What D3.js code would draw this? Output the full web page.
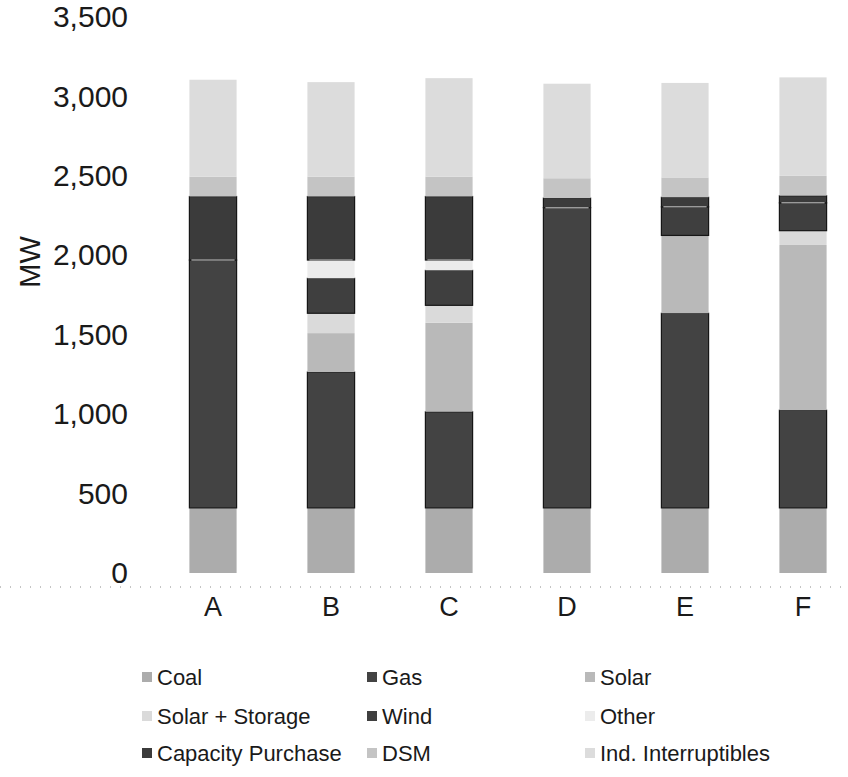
<!DOCTYPE html>
<html>
<head>
<meta charset="utf-8">
<script src="https://cdn.jsdelivr.net/npm/d3@7/dist/d3.min.js"></script>
<style>
  html, body { margin: 0; padding: 0; background: #fff; }
  svg { display: block; font-family: "Liberation Sans", Arial, Helvetica, sans-serif; }
</style>
</head>
<body>
<svg id="chart" width="848" height="777"></svg>
<script>
// Resource portfolios, MW by resource type
const categories = ["A", "B", "C", "D", "E", "F"];
const seriesNames = ["Coal", "Gas", "Solar", "Solar + Storage", "Wind", "Other",
                     "Capacity Purchase", "DSM", "Ind. Interruptibles"];

const coal             = [410, 410, 410, 410, 410, 410];
const gas              = [1560, 855, 605, 1890, 1225, 615];
const solar            = [0, 245, 560, 0, 490, 1040];
const solarStorage     = [0, 125, 110, 0, 0, 90];
const wind             = [0, 220, 220, 0, 180, 175];
const other            = [0, 115, 65, 0, 0, 0];
const capacityPurchase = [400, 400, 400, 60, 60, 45];
const dsm              = [125, 125, 125, 125, 125, 125];
const indInterruptible = [610, 595, 620, 595, 595, 620];

const yTicks = [0, 500, 1000, 1500, 2000, 2500, 3000, 3500];

const seriesValues = [coal, gas, solar, solarStorage, wind, other,
                      capacityPurchase, dsm, indInterruptible];
const seriesFill = ["#acacac", "#434343", "#b9b9b9", "#dadada", "#3f3f3f",
                    "#ececec", "#3b3b3b", "#c4c4c4", "#dcdcdc"];
const darkSeries = new Set(["Gas", "Wind", "Capacity Purchase"]);

// rows for the stack layout
const rows = categories.map((c, i) => {
  const r = { category: c };
  seriesNames.forEach((s, k) => { r[s] = seriesValues[k][i]; });
  return r;
});

const svg = d3.select("#chart");

const x = d3.scaleBand()
  .domain(categories)
  .range([154, 862])
  .paddingInner(0.6)
  .paddingOuter(0.3);

const y = d3.scaleLinear()
  .domain([0, 3500])
  .range([573, 17]);

const stacked = d3.stack().keys(seriesNames)(rows);

// stacked bars
svg.append("g")
  .selectAll("g")
  .data(stacked)
  .join("g")
    .attr("fill", (d, i) => seriesFill[i])
    .attr("stroke", d => darkSeries.has(d.key) ? "#161616" : "none")
    .attr("stroke-width", 1.2)
  .selectAll("rect")
  .data(d => d.filter(p => p[1] - p[0] > 0))
  .join("rect")
    .attr("x", d => x(d.data.category))
    .attr("width", x.bandwidth())
    .attr("y", d => y(d[1]))
    .attr("height", d => y(d[0]) - y(d[1]));

// thin light seams at the base of each capacity purchase block
svg.append("g")
  .selectAll("line")
  .data(stacked.filter(s => s.key === "Capacity Purchase")[0].filter(p => p[1] - p[0] > 0))
  .join("line")
    .attr("x1", d => x(d.data.category) + 2)
    .attr("x2", d => x(d.data.category) + x.bandwidth() - 2)
    .attr("y1", d => y(d[0]))
    .attr("y2", d => y(d[0]))
    .attr("stroke", "#9a9a9a")
    .attr("stroke-width", 1.5);

// y axis labels
const yAxis = svg.append("g")
  .attr("transform", "translate(128,0)")
  .call(d3.axisLeft(y).tickValues(yTicks).tickFormat(d3.format(",")).tickSize(0).tickPadding(0));
yAxis.select(".domain").remove();
yAxis.selectAll("text")
  .attr("font-size", 30)
  .attr("font-family", "'Liberation Sans', Arial, sans-serif")
  .attr("fill", "#1a1a1a");

// y axis title
svg.append("text")
  .attr("transform", "translate(30,262) rotate(-90)")
  .attr("text-anchor", "middle")
  .attr("dominant-baseline", "central")
  .attr("font-size", 29)
  .attr("fill", "#1a1a1a")
  .text("MW");

// category baseline (faint dotted)
svg.append("line")
  .attr("x1", 0).attr("x2", 848)
  .attr("y1", 587).attr("y2", 587)
  .attr("stroke", "#8a8a8a")
  .attr("stroke-width", 1)
  .attr("stroke-dasharray", "1,9");

// x axis labels
const xAxis = svg.append("g")
  .attr("transform", "translate(0,597)")
  .call(d3.axisBottom(x).tickSize(0).tickPadding(0));
xAxis.select(".domain").remove();
xAxis.selectAll("text")
  .attr("font-size", 27)
  .attr("font-family", "'Liberation Sans', Arial, sans-serif")
  .attr("fill", "#1a1a1a");

// legend, three columns
const legendCols = [147, 372, 590];
const legendRows = [677, 716, 753];
const legend = svg.append("g")
  .selectAll("g")
  .data(seriesNames)
  .join("g")
    .attr("transform", (d, i) => `translate(${legendCols[i % 3]},${legendRows[Math.floor(i / 3)]})`);
legend.append("rect")
  .attr("x", -5).attr("y", -5)
  .attr("width", 10).attr("height", 10)
  .attr("fill", (d, i) => seriesFill[i]);
legend.append("text")
  .attr("x", 10)
  .attr("dominant-baseline", "central")
  .attr("font-size", 22)
  .attr("fill", "#1a1a1a")
  .text(d => d);
</script>
</body>
</html>
